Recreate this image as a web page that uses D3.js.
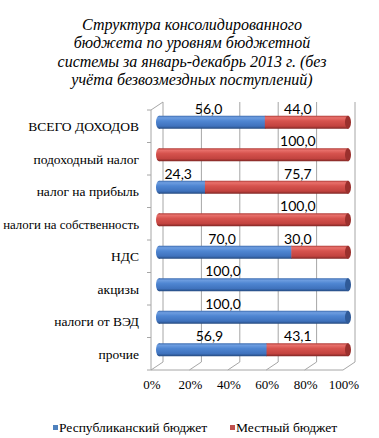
<!DOCTYPE html>
<html><head><meta charset="utf-8">
<script src="https://cdn.jsdelivr.net/npm/d3@7"></script>
</head><body>
<script>
const categories = ["ВСЕГО ДОХОДОВ","подоходный налог","налог на прибыль","налоги на собственность","НДС","акцизы","налоги от ВЭД","прочие"];
const republican = [56.0, 0, 24.3, 0, 70.0, 100.0, 100.0, 56.9];
const local = [44.0, 100.0, 75.7, 100.0, 30.0, 0, 0, 43.1];
const seriesNames = ["Республиканский бюджет","Местный бюджет"];
const tickValues = [0,20,40,60,80,100];
const titleLines = ["Структура консолидированного","бюджета по уровням бюджетной","системы за январь-декабрь 2013 г. (без","учёта безвозмездных поступлений)"];

const SERIF="Liberation Serif", SANS="Lato";
const W=379,H=438;
d3.select("body").style("margin","0px");
const svg=d3.select("body").append("svg").attr("width",W).attr("height",H).style("display","block");
const defs=svg.append("defs");
function grad(id,stops){const g=defs.append("linearGradient").attr("id",id).attr("x1",0).attr("y1",0).attr("x2",0).attr("y2",1);
 stops.forEach(([o,c])=>g.append("stop").attr("offset",o).attr("stop-color",c));}
grad("gBlue",[[0,"#3d6cb0"],[0.15,"#6d9de0"],[0.4,"#4f86d2"],[0.8,"#3f72bd"],[1,"#24497e"]]);
grad("gRed",[[0,"#b03c38"],[0.15,"#e8706b"],[0.4,"#d6534e"],[0.8,"#c2433f"],[1,"#7e2624"]]);
const colors=["url(#gBlue)","url(#gRed)"];
const capColors=["#2f5a98","#9a302d"];
const legendColors=["#4f81bd","#c0504d"];

// text helper: anchor computed manually (0 start, 0.5 middle, 1 end); shrinks to maxW if given
function txt(parent,str,x0,y0,fam,size,anchor,italic,maxW){
  const t=parent.append("text").attr("x",x0).attr("y",y0).style("font-family",fam).attr("font-size",size);
  if(italic) t.attr("font-style","italic");
  t.text(str);
  let w=t.node().getComputedTextLength();
  if(maxW && w>maxW){ t.attr("font-size",size*maxW/w); w=t.node().getComputedTextLength(); }
  if(anchor) t.attr("x",x0-w*anchor);
  return t;
}

const dx=12, dy=-8;
const x=d3.scaleLinear().domain([0,100]).range([151,343]);
const xb=d3.scaleLinear().domain([0,100]).range([x(0)+dx/2+2, x(100)+dx/2-1]);
const y=d3.scaleBand().domain(categories).range([110,370]);
const gridC="#a6a6a6";

// title
titleLines.forEach((t,i)=>txt(svg,t,192,30+i*18.3,SERIF,16,0.5,true,300));

// walls / grid
const g=svg.append("g");
g.selectAll("line.grid").data(tickValues).join("line").attr("class","grid")
 .attr("x1",d=>x(d)+dx).attr("x2",d=>x(d)+dx).attr("y1",y.range()[0]+dy).attr("y2",y.range()[1]+dy)
 .attr("stroke",gridC).attr("stroke-width",1);
g.selectAll("line.fd").data(tickValues).join("line").attr("class","fd")
 .attr("x1",d=>x(d)).attr("x2",d=>x(d)+dx).attr("y1",y.range()[1]).attr("y2",y.range()[1]+dy)
 .attr("stroke",gridC);
g.append("line").attr("x1",x(0)).attr("x2",x(100)).attr("y1",y.range()[1]).attr("y2",y.range()[1]).attr("stroke",gridC);
g.append("line").attr("x1",x(0)).attr("x2",x(0)).attr("y1",y.range()[0]).attr("y2",y.range()[1]).attr("stroke",gridC);
g.append("line").attr("x1",x(0)).attr("x2",x(0)+dx).attr("y1",y.range()[0]).attr("y2",y.range()[0]+dy).attr("stroke",gridC);
const bounds=categories.map(c=>y(c)).concat([y.range()[1]]);
g.selectAll("line.ct").data(bounds).join("line").attr("class","ct")
 .attr("x1",x(0)-4).attr("x2",x(0)).attr("y1",d=>d).attr("y2",d=>d).attr("stroke",gridC);

// x tick labels
tickValues.forEach(d=>txt(svg,d+"%",x(d)+1,389,SERIF,13,0.5));

// category labels
categories.forEach(c=>txt(svg,c,139,y(c)+y.bandwidth()/2+5,SERIF,13.5,1,false,136));

// bars (cylinders)
const h=13, r=3;
const rows=categories.map((c,i)=>({c,vals:[republican[i],local[i]]}));
const barG=svg.append("g");
const labG=svg.append("g");
rows.forEach(row=>{
  const cy=y(row.c)+y.bandwidth()/2+dy/2;
  let acc=0;
  const segs=row.vals.map((v,k)=>{const s={k,v,x0:acc,x1:acc+v};acc+=v;return s;}).filter(s=>s.v>0);
  const first=segs[0];
  barG.append("ellipse").attr("cx",xb(0)).attr("cy",cy).attr("rx",r).attr("ry",h/2).attr("fill",colors[first.k]);
  segs.forEach(s=>{
    barG.append("rect").attr("x",xb(s.x0)).attr("y",cy-h/2)
      .attr("width",xb(s.x1)-xb(s.x0)+0.5).attr("height",h).attr("fill",colors[s.k]);
  });
  const last=segs[segs.length-1];
  barG.append("ellipse").attr("cx",xb(100)).attr("cy",cy).attr("rx",r).attr("ry",h/2)
    .attr("fill",capColors[last.k]);
  segs.forEach(s=>{
    const pct = s.k===0 ? Math.min(s.v/2+2,37.5) : 76.5;
    txt(labG,d3.format(".1f")(s.v).replace(".",","),x(pct),cy-8.5,SANS,14,0.5);
  });
});

// legend
const lx=[53,230];
seriesNames.forEach((n,i)=>{
  svg.append("rect").attr("x",lx[i]).attr("y",425).attr("width",5).attr("height",5).attr("fill",legendColors[i]);
  txt(svg,n,lx[i]+6,432,SERIF,13.5,0);
});
</script>
</body></html>
